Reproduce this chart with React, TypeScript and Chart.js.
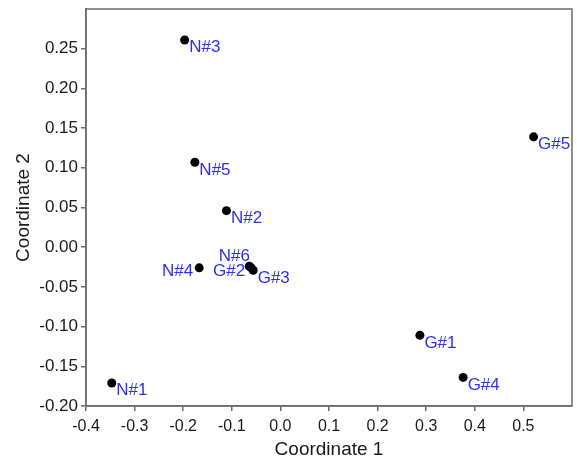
import React, { useEffect, useRef } from "react";
import { Chart, registerables } from "chart.js";

Chart.register(...registerables);

const labels = ["N#1", "N#2", "N#3", "N#4", "N#5", "N#6", "G#1", "G#2", "G#3", "G#4", "G#5"];
const coord1 = [-0.347, -0.111, -0.197, -0.167, -0.176, -0.064, 0.287, -0.060, -0.056, 0.376, 0.521];
const coord2 = [-0.171, 0.046, 0.261, -0.026, 0.107, -0.024, -0.111, -0.026, -0.029, -0.164, 0.139];
// label placement relative to the point: se = below-right, w = left, n = above-left
const labelSide = ["se", "se", "se", "w", "se", "n", "se", "w", "se", "se", "se"];
const xTicks = [-0.4, -0.3, -0.2, -0.1, 0.0, 0.1, 0.2, 0.3, 0.4, 0.5];
const yTicks = [-0.2, -0.15, -0.1, -0.05, 0.0, 0.05, 0.1, 0.15, 0.2, 0.25];

const FONT = "'Liberation Sans', Arial, Helvetica, sans-serif";

const framePlugin = {
  id: "frame",
  afterDraw(chart: any) {
    const { ctx, chartArea: a } = chart;
    ctx.save();
    ctx.strokeStyle = "#6b6b6b";
    ctx.lineWidth = 1.5;
    ctx.strokeRect(a.left, a.top, a.right - a.left, a.bottom - a.top);
    ctx.restore();
  },
};

const labelPlugin = {
  id: "pointLabels",
  afterDatasetsDraw(chart: any) {
    const { ctx } = chart;
    const meta = chart.getDatasetMeta(0);
    ctx.save();
    ctx.font = `17px ${FONT}`;
    ctx.fillStyle = "#2f2ff2";
    ctx.textBaseline = "alphabetic";
    meta.data.forEach((pt: any, i: number) => {
      const side = labelSide[i];
      const t = labels[i];
      if (side === "se") {
        ctx.textAlign = "left";
        ctx.fillText(t, pt.x + 4.5, pt.y + 12.5);
      } else if (side === "w") {
        ctx.textAlign = "right";
        ctx.fillText(t, pt.x - 6, pt.y + 8);
      } else {
        ctx.textAlign = "center";
        ctx.fillText(t, pt.x - 15, pt.y - 5);
      }
    });
    ctx.restore();
  },
};

export default function App() {
  const ref = useRef<HTMLCanvasElement>(null);
  useEffect(() => {
    if (!ref.current) return;
    const data = coord1.map((x, i) => ({ x, y: coord2[i] }));
    const chart = new Chart(ref.current, {
      type: "scatter",
      data: {
        datasets: [
          {
            data,
            pointRadius: 4.5,
            pointHoverRadius: 4.5,
            backgroundColor: "#000",
            borderColor: "#000",
            borderWidth: 0,
          },
        ],
      },
      options: {
        animation: false,
        responsive: false,
        events: [],
        layout: { padding: { top: 9, right: 5, left: 0, bottom: 0 } },
        plugins: { legend: { display: false }, tooltip: { enabled: false } },
        scales: {
          x: {
            type: "linear",
            min: -0.4,
            max: 0.6,
            afterBuildTicks: (s: any) => {
              s.ticks = xTicks.map((v) => ({ value: v }));
            },
            afterFit: (s: any) => {
              s.height = 55;
              s.paddingLeft = 0;
              s.paddingRight = 0;
            },
            ticks: {
              color: "#1a1a1a",
              font: { size: 16, family: FONT },
              padding: 6,
              maxRotation: 0,
              callback: (v: any) => Number(v).toFixed(1),
            },
            grid: { drawOnChartArea: false, tickLength: 5, color: "#6b6b6b", lineWidth: 1.5 },
            border: { color: "#6b6b6b", width: 1.5 },
            title: {
              display: true,
              text: "Coordinate 1",
              color: "#1a1a1a",
              font: { size: 19, family: FONT },
              padding: { top: 0, bottom: 0 },
            },
          },
          y: {
            type: "linear",
            min: -0.2,
            max: 0.3,
            afterBuildTicks: (s: any) => {
              s.ticks = yTicks.map((v) => ({ value: v }));
            },
            afterFit: (s: any) => {
              s.width = 86;
              s.paddingTop = 0;
              s.paddingBottom = 0;
            },
            ticks: {
              color: "#1a1a1a",
              font: { size: 17, family: FONT },
              padding: 3,
              callback: (v: any) => Number(v).toFixed(2),
            },
            grid: { drawOnChartArea: false, tickLength: 5, color: "#6b6b6b", lineWidth: 1.5 },
            border: { color: "#6b6b6b", width: 1.5 },
            title: {
              display: true,
              text: "Coordinate 2",
              color: "#1a1a1a",
              font: { size: 19, family: FONT },
              padding: { top: 12, bottom: 0 },
            },
          },
        },
      },
      plugins: [framePlugin, labelPlugin],
    } as any);
    return () => chart.destroy();
  }, []);
  return (
    <div style={{ position: "fixed", left: 0, top: 0, width: 577, height: 461, background: "#fff" }}>
      <canvas ref={ref} width={577} height={461} style={{ width: 577, height: 461 }} />
    </div>
  );
}
